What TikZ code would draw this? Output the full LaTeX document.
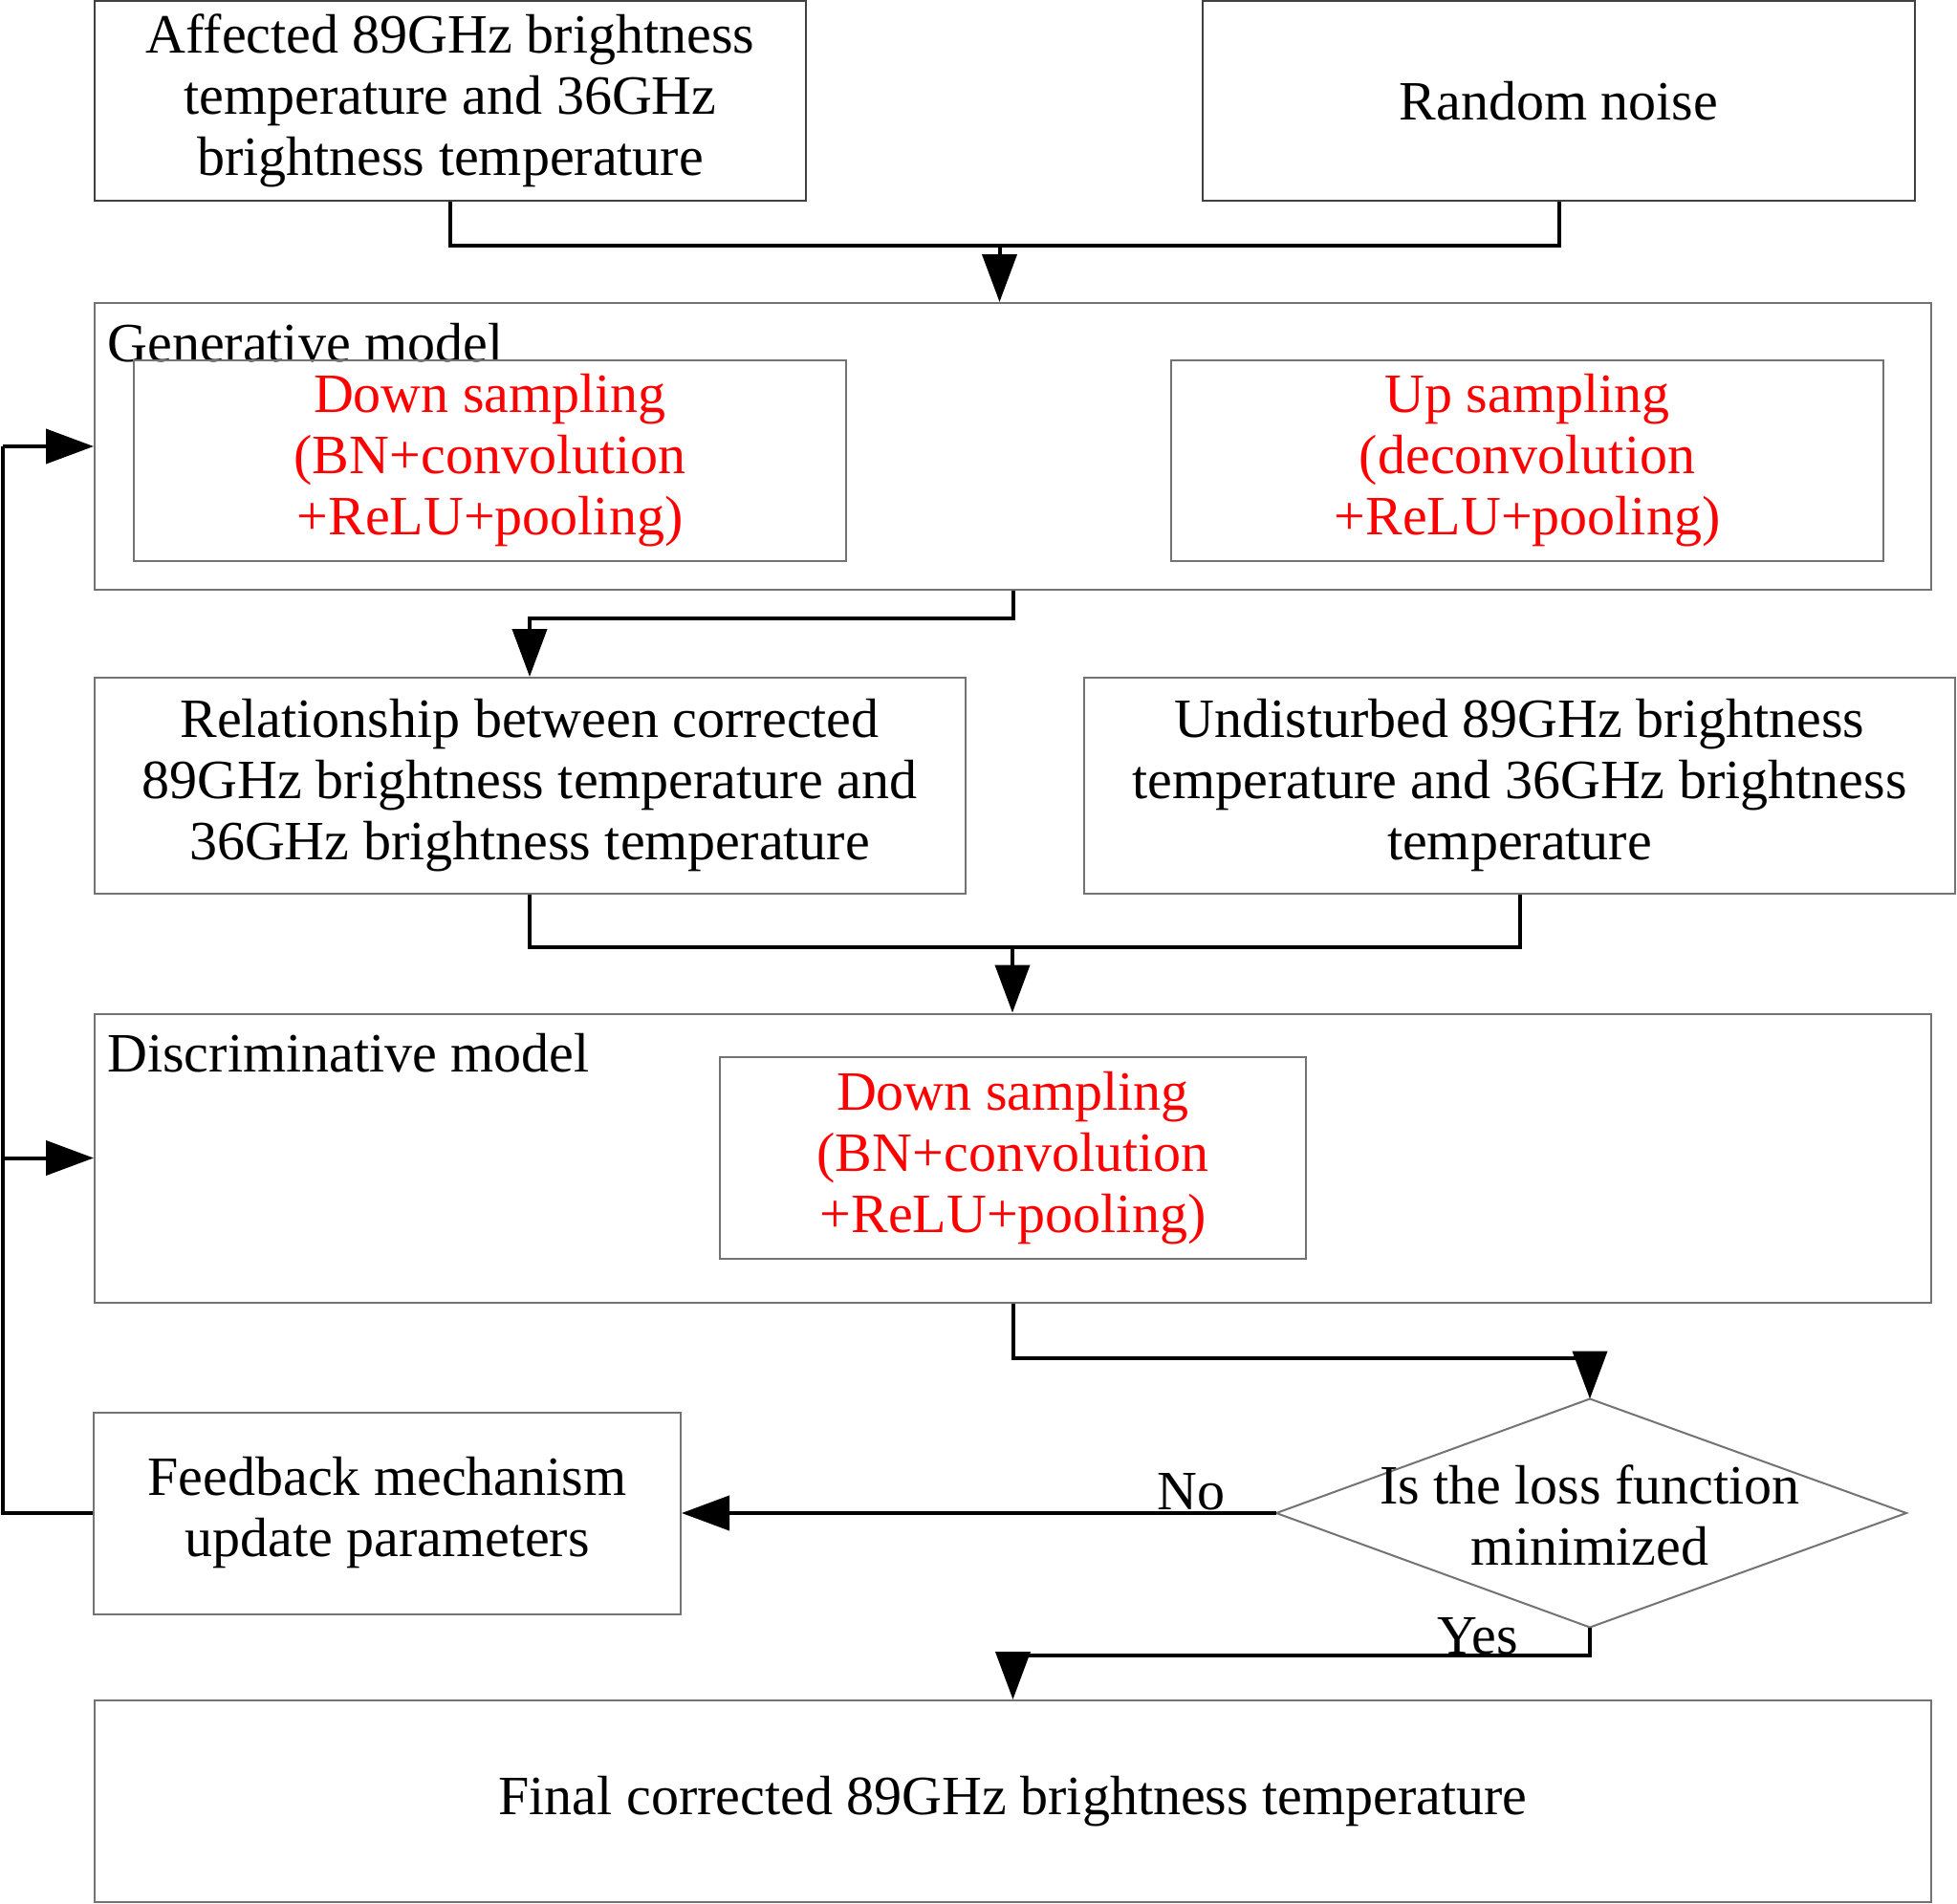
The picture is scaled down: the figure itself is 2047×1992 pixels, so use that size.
\documentclass[tikz,border=0pt]{standalone}
\usepackage{fontspec}
\setmainfont{Liberation Serif}
\usetikzlibrary{arrows.meta,calc}
\tikzset{
  txt/.style={font=\fontsize{29}{32}\selectfont, align=center},
  box/.style={txt, draw=black!55, line width=1pt, inner sep=0pt},
  redbox/.style={box, text=red},
  line/.style={draw=black, line width=2pt},
  arr/.style={line, -{Triangle[length=25pt,width=18pt]}},
  lab/.style={txt, inner sep=0pt}
}
\begin{document}
\begin{tikzpicture}[x=0.5pt,y=-0.5pt]
\useasboundingbox (0,0) rectangle (2047,1992);
% top row
\node[box, draw=black!75, minimum width=372pt, minimum height=104.5pt] (A) at (471,105.5)
  {Affected 89GHz brightness\\temperature and 36GHz\\brightness temperature};
\node[box, draw=black!75, minimum width=372.5pt, minimum height=104.5pt] (N) at (1630.5,105.5)
  {Random noise};
% generative model
\node[box, minimum width=960.5pt, minimum height=150pt] (Gen) at (1059.5,467) {};
\node[lab, anchor=base west] (GenL) at (112,378) {Generative model};
\node[redbox, minimum width=372.5pt, minimum height=105pt] (GD) at (512.5,482)
  {Down sampling\\(BN+convolution\\+ReLU+pooling)};
\node[redbox, minimum width=372.5pt, minimum height=105pt] (GU) at (1597.5,482)
  {Up sampling\\(deconvolution\\+ReLU+pooling)};
% middle row
\node[box, minimum width=455.5pt, minimum height=113pt] (Rel) at (554,822)
  {Relationship between corrected\\89GHz brightness temperature and\\36GHz brightness temperature};
\node[box, minimum width=455.5pt, minimum height=113pt] (Und) at (1589.5,822)
  {Undisturbed 89GHz brightness\\temperature and 36GHz brightness\\temperature};
% discriminative model
\node[box, minimum width=960.5pt, minimum height=151pt] (Disc) at (1059.5,1211.5) {};
\node[lab, anchor=base west] (DiscL) at (112,1121) {Discriminative model};
\node[redbox, minimum width=306.5pt, minimum height=105.5pt] (DD) at (1059.5,1211.5)
  {Down sampling\\(BN+convolution\\+ReLU+pooling)};
% feedback
\node[box, minimum width=307pt, minimum height=105.5pt] (FB) at (405,1583)
  {Feedback mechanism\\update parameters};
% decision diamond
\coordinate (dT) at (1663,1463.5);
\coordinate (dB) at (1663,1702.5);
\coordinate (dL) at (1335,1583);
\coordinate (dR) at (1994,1583);
\draw[draw=black!55, line width=1pt] (dT) -- (dR) -- (dB) -- (dL) -- cycle;
\node[lab] (DecT) at (1663,1585) {Is the loss function\\minimized};
% final
\node[box, minimum width=960.5pt, minimum height=105.5pt] (Fin) at (1059.5,1884.5)
  {Final corrected 89GHz brightness temperature};
% connectors
\coordinate (j1) at (1045.5,256.5);
\draw[line] (A.south) |- (j1);
\draw[line] (N.south) |- (j1);
\draw[arr] (j1) -- (j1 |- Gen.north);
\draw[arr] (Gen.south) -- ++(0,29) -| (Rel.north);
\coordinate (j2) at (1059,991);
\draw[line] (Rel.south) |- (j2);
\draw[line] (Und.south) |- (j2);
\draw[arr] (j2) -- (j2 |- Disc.north);
\draw[arr] (Disc.south) -- ++(0,57) -| (dT);
\draw[arr] (dL) -- (FB.east);
\node[lab] (NoL) at (1246,1561) {No};
\draw[arr] (dB) -- ++(0,29.5) -| (Fin.north);
\node[lab] (YesL) at (1546,1712) {Yes};
\coordinate (fx) at (3,1583);
\draw[line] (FB.west) -- (fx) -- (fx |- Gen.west);
\draw[arr] (fx |- Gen.west) -- (Gen.west);
\draw[arr] (fx |- Disc.west) -- (Disc.west);
\end{tikzpicture}
\end{document}
